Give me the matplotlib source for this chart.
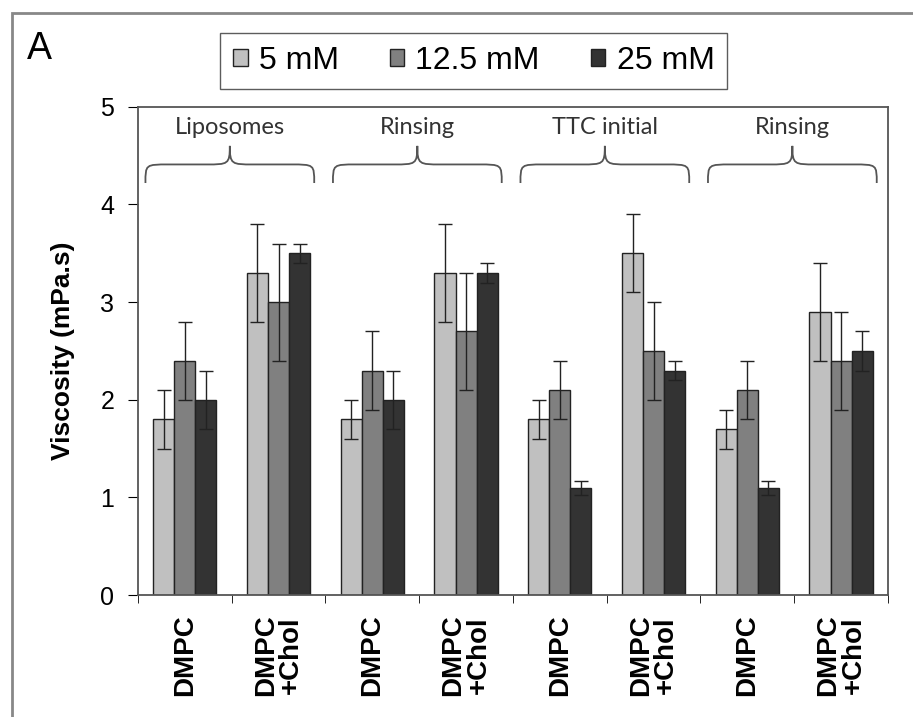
import numpy as np
import matplotlib.pyplot as plt
from matplotlib.path import Path
from matplotlib.patches import PathPatch, Rectangle

plt.rcParams['font.family'] = ['Liberation Sans', 'DejaVu Sans']

# data
categorias = ['DMPC', 'DMPC\n+Chol'] * 4
etapas = ['Liposomes', 'Rinsing', 'TTC initial', 'Rinsing']
series = ['5 mM', '12.5 mM', '25 mM']
v5 = [1.8, 3.3, 1.8, 3.3, 1.8, 3.5, 1.7, 2.9]
e5 = [0.3, 0.5, 0.2, 0.5, 0.2, 0.4, 0.2, 0.5]
v12 = [2.4, 3.0, 2.3, 2.7, 2.1, 2.5, 2.1, 2.4]
e12 = [0.4, 0.6, 0.4, 0.6, 0.3, 0.5, 0.3, 0.5]
v25 = [2.0, 3.5, 2.0, 3.3, 1.1, 2.3, 1.1, 2.5]
e25 = [0.3, 0.1, 0.3, 0.1, 0.07, 0.1, 0.07, 0.2]
colores = ['#c0c0c0', '#808080', '#333333']


def llave(ax, x0, x1, yb, h):
    """Curly brace drawn over [x0, x1]."""
    xm = (x0 + x1) / 2
    r = 0.25
    y1 = yb + h * 0.5
    yt = yb + h
    verts = [(x0, yb), (x0, y1), (x0, y1), (x0 + r, y1),
             (xm - r, y1),
             (xm - 0.02, y1), (xm, y1), (xm, yt),
             (xm, y1), (xm + 0.02, y1), (xm + r, y1),
             (x1 - r, y1),
             (x1, y1), (x1, y1), (x1, yb)]
    codes = [Path.MOVETO, Path.CURVE4, Path.CURVE4, Path.CURVE4,
             Path.LINETO,
             Path.CURVE4, Path.CURVE4, Path.CURVE4,
             Path.CURVE4, Path.CURVE4, Path.CURVE4,
             Path.LINETO,
             Path.CURVE4, Path.CURVE4, Path.CURVE4]
    ax.add_patch(PathPatch(Path(verts, codes), fill=False, edgecolor='#555555', lw=1.3))


fig = plt.figure(figsize=(9.13, 7.17), dpi=100)
ax = fig.add_axes([0.1511, 0.170, 0.8215, 0.681])

x = np.arange(len(categorias))
w = 0.225
for k, (vals, errs) in enumerate([(v5, e5), (v12, e12), (v25, e25)]):
    ax.bar(x + (k - 1) * w, vals, w, yerr=errs, color=colores[k], edgecolor='#222222',
           linewidth=1.0, label=series[k],
           error_kw=dict(ecolor='#222222', elinewidth=1.0, capsize=5, capthick=1.0))

for i, nombre in enumerate(etapas):
    x0 = 2 * i - 0.42
    x1 = 2 * i + 1.38
    llave(ax, x0, x1, 4.22, 0.38)
    ax.text((x0 + x1) / 2, 4.79, nombre, ha='center', va='center', fontsize=17,
            family=['Lato', 'DejaVu Sans'], color='#333333')

ax.set_xlim(-0.5, 7.5)
ax.set_ylim(0, 5)
ax.set_yticks([0, 1, 2, 3, 4, 5])
ax.tick_params(axis='y', direction='out', length=7, labelsize=18, pad=10)
ax.set_xticks(x)
ax.set_xticklabels(categorias, rotation=90, fontsize=20, fontweight='bold', linespacing=0.95)
ax.tick_params(axis='x', which='major', length=0, pad=14)
ax.set_xticks(np.arange(-0.5, 8, 1), minor=True)
ax.tick_params(axis='x', which='minor', direction='out', length=6)
for s in ax.spines.values():
    s.set_color('#555555')
    s.set_linewidth(1.3)

ax.set_ylabel('Viscosity (mPa.s)', fontsize=19, fontweight='bold', labelpad=18)

fig.legend(loc='center', bbox_to_anchor=(0.519, 0.915), ncol=3, fontsize=23,
           frameon=True, fancybox=False, edgecolor='#333333', handlelength=0.45,
           handleheight=0.45, handletextpad=0.35, columnspacing=1.6, borderpad=0.4,
           borderaxespad=0)
fig.text(0.029, 0.932, 'A', fontsize=27, ha='left', va='center')

fig.patches.append(Rectangle((0.013, -0.1), 1.2, 1.082, transform=fig.transFigure,
                             fill=False, edgecolor='#888888', lw=2))

plt.savefig('out.png')
